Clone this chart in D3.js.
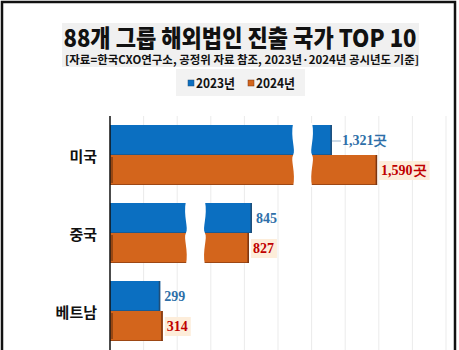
<!DOCTYPE html>
<html><head><meta charset="utf-8">
<script src="https://cdn.jsdelivr.net/npm/d3@7"></script>
<style>html,body{margin:0;padding:0;background:#fff;overflow:hidden}svg{display:block}</style>
</head><body>
<script>
const countries = ["미국", "중국", "베트남"];
const series = ["2023년", "2024년"];
const values2023 = [1321, 845, 299];
const values2024 = [1590, 827, 314];
const labels2023 = ["1,321곳", "845", "299"];
const labels2024 = ["1,590곳", "827", "314"];
const breakAt = [1090, 452, null];
const xTicks = [0, 200, 400, 600, 800, 1000, 1200, 1400, 1600, 1800, 2000];
const title = "88개 그룹 해외법인 진출 국가 TOP 10";
const subtitle = "[자료=한국CXO연구소, 공정위 자료 참조, 2023년·2024년 공시년도 기준]";

const W = 459, H = 350;
const colors = ["#0B6FC1", "#D3651C"];
const edge = ["#1F4E79", "#7A3410"];
const labelColors = ["#2E6FA8", "#C00000"];

const svg = d3.select("body").append("svg").attr("width", W).attr("height", H);
svg.append("rect").attr("width", W).attr("height", H).attr("fill", "#fff");

const x = d3.scaleLinear().domain([0, 2000]).range([110, 446]);
const y0 = d3.scaleBand().domain(countries).range([116, 350]);
const y1 = d3.scaleBand().domain(series).range([9, 69]);

// title block
svg.append("rect").attr("x", 62).attr("y", 23).attr("width", 357).attr("height", 44).attr("fill", "#F0F0F0");
svg.append("text").attr("x", 240).attr("y", 46.5).attr("text-anchor", "middle")
  .attr("font-family", "Noto Sans CJK KR").attr("font-weight", 900).attr("font-size", 24)
  .attr("textLength", 353).attr("lengthAdjust", "spacingAndGlyphs")
  .attr("fill", "#111").text(title);
svg.append("text").attr("x", 242).attr("y", 63.5).attr("text-anchor", "middle")
  .attr("font-family", "Noto Sans CJK KR").attr("font-weight", 700).attr("font-size", 11)
  .attr("textLength", 354).attr("lengthAdjust", "spacingAndGlyphs")
  .attr("fill", "#111").text(subtitle);

// legend
svg.append("rect").attr("x", 176).attr("y", 69).attr("width", 129).attr("height", 27).attr("fill", "#F2F2F2");
const lg = svg.append("g");
series.forEach((s, i) => {
  const gx = 188 + i * 60;
  lg.append("rect").attr("x", gx).attr("y", 80).attr("width", 6).attr("height", 6).attr("fill", colors[i]).attr("stroke", edge[i]).attr("stroke-width", 0.5);
  lg.append("text").attr("x", gx + 8).attr("y", 87.5)
    .attr("font-family", "Noto Sans CJK KR").attr("font-weight", 700).attr("font-size", 13)
    .attr("textLength", 39).attr("lengthAdjust", "spacingAndGlyphs")
    .attr("fill", "#111").text(s);
});

// gridlines
svg.append("g").selectAll("line").data(xTicks.slice(1)).join("line")
  .attr("x1", d => x(d)).attr("x2", d => x(d)).attr("y1", 116).attr("y2", H)
  .attr("stroke", "#EBEBEB").attr("stroke-width", 1);

// bars
const groups = svg.append("g").selectAll("g").data(countries).join("g")
  .attr("transform", d => `translate(0,${y0(d)})`);

countries.forEach((c, ci) => {
  const g = groups.filter(d => d === c);
  const vals = [values2023[ci], values2024[ci]];
  const labs = [labels2023[ci], labels2024[ci]];
  series.forEach((s, si) => {
    const yy = y1(s), hh = y1.bandwidth();
    g.append("rect").attr("x", x(0)).attr("y", yy).attr("width", x(vals[si]) - x(0)).attr("height", hh)
      .attr("fill", colors[si]);
    g.append("line").attr("x1", x(vals[si]) - 0.75).attr("x2", x(vals[si]) - 0.75).attr("y1", yy).attr("y2", yy + hh)
      .attr("stroke", edge[si]).attr("stroke-width", 1.5);
    g.append("line").attr("x1", x(0)).attr("x2", x(vals[si])).attr("y1", yy + hh - 0.5).attr("y2", yy + hh - 0.5)
      .attr("stroke", edge[si]).attr("stroke-width", 1).attr("opacity", 0.6);
    if (si === 1) {
      g.append("line").attr("x1", x(0) + 2).attr("x2", x(0) + 2).attr("y1", yy + 2).attr("y2", yy + hh - 2)
        .attr("stroke", "#5A2A0A").attr("stroke-width", 1);
    }
  });
  // break
  if (breakAt[ci] != null) {
    const bx = x(breakAt[ci]);
    const top = y1(series[0]) - 2, bot = y1(series[1]) + y1.bandwidth() + 2;
    const mid = (top + bot) / 2, gw = 19;
    const p = d3.path();
    p.moveTo(bx, top);
    p.bezierCurveTo(bx - 3, top + 15, bx + 3, mid - 5, bx, mid);
    p.bezierCurveTo(bx - 3, mid + 5, bx + 3, bot - 15, bx, bot);
    p.lineTo(bx + gw, bot);
    p.bezierCurveTo(bx + gw - 3, bot - 15, bx + gw + 3, mid + 5, bx + gw, mid);
    p.bezierCurveTo(bx + gw - 3, mid - 5, bx + gw + 3, top + 15, bx + gw, top);
    p.closePath();
    g.append("path").attr("d", p.toString()).attr("fill", "#fff");
  }
  // labels
  series.forEach((s, si) => {
    const yy = y1(s) + y1.bandwidth() / 2;
    const lx = x(vals[si]) + (ci === 0 && si === 0 ? 10 : 4);
    if (si === 1) {
      const tmp = g.append("text").attr("font-family", "Liberation Serif").attr("font-weight", 700).attr("font-size", 14).text(labs[si]);
      const w = tmp.node().getComputedTextLength();
      tmp.remove();
      g.append("rect").attr("x", lx - 2).attr("y", yy - 9).attr("width", w + 5).attr("height", 19).attr("fill", "#FDEDDA");
    }
    if (ci === 0 && si === 0) {
      g.append("line").attr("x1", x(vals[si])).attr("x2", lx - 1).attr("y1", yy + 1).attr("y2", yy + 1).attr("stroke", "#9BB4CC").attr("stroke-width", 1);
    }
    g.append("text").attr("x", lx).attr("y", yy + 5)
      .attr("font-family", "Liberation Serif").attr("font-weight", 700).attr("font-size", 14)
      .attr("fill", labelColors[si]).text(labs[si]);
  });
});

// y axis
const yAxis = d3.axisLeft(y0).tickSize(0).tickPadding(13);
const ax = svg.append("g").attr("transform", `translate(${x(0)},0)`).call(yAxis);
ax.select(".domain").remove();
ax.selectAll("text").attr("font-family", "Noto Sans CJK KR").attr("font-weight", 700).attr("font-size", 15).attr("fill", "#111").attr("dy", "0.45em");
svg.append("line").attr("x1", x(0)).attr("x2", x(0)).attr("y1", 116).attr("y2", H).attr("stroke", "#111").attr("stroke-width", 1.5);

// outer border
svg.append("rect").attr("x", 2).attr("y", 2).attr("width", 453).attr("height", H + 10).attr("fill", "none").attr("stroke", "#111").attr("stroke-width", 2.5);
</script>
</body></html>
